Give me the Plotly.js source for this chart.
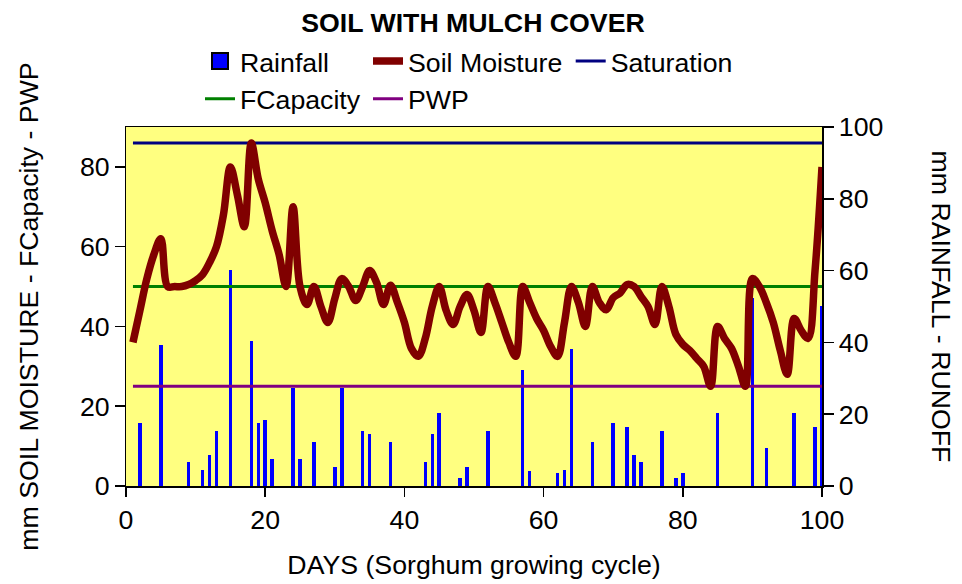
<!DOCTYPE html>
<html>
<head>
<meta charset="utf-8">
<script src="https://cdn.plot.ly/plotly-3.0.1.min.js"></script>
<style>html,body{margin:0;padding:0;background:#fff;}#chart{width:962px;height:584px;}</style>
</head>
<body>
<div id="chart"></div>
<script>
// ---- data ----
const days = Array.from({length: 100}, (_, i) => i + 1);
const soilMoisture = [
  36, 44, 52, 58, 62, 50, 50, 50, 50.5, 51.5,
  53, 56, 60, 68, 80, 73, 65, 86, 77, 71,
  64, 58, 50, 70, 50, 45.5, 50, 45, 41, 47,
  52, 50, 46.5, 50, 54, 51, 45.5, 50.3, 46, 41,
  34.5, 32.5, 37, 45, 50, 44, 40.5, 45, 48, 44,
  38.5, 50, 46, 41, 36, 32.5, 50, 46, 42, 39,
  35, 32.5, 41, 50, 46, 40, 50, 46, 44.2, 47.2,
  48.4, 50.5, 50, 47.5, 45, 40.5, 50, 45, 38, 35.5,
  34, 32, 30, 25, 40, 37, 34.5, 30, 25, 52,
  50, 46, 41, 34, 28, 42, 39, 37, 54, 80
];
const rainDays = [2, 5, 9, 11, 12, 13, 15, 18, 19, 20, 21, 24, 25, 27, 30, 31, 34, 35, 38, 43, 44, 45, 48, 49, 52, 57, 58, 62, 63, 64, 67, 70, 72, 73, 74, 77, 79, 80, 85, 90, 92, 96, 99, 100];
const rainfall = [17.5, 39.3, 6.6, 4.5, 8.5, 15.4, 60.2, 40.4, 17.5, 18.4, 7.4, 27.4, 7.4, 12.3, 5.4, 27.4, 15.4, 14.4, 12.3, 6.6, 14.4, 20.4, 2.3, 5.4, 15.4, 32.3, 4.3, 3.5, 4.5, 38.3, 12.3, 17.5, 16.3, 8.5, 6.6, 15.4, 2.3, 3.5, 20.4, 52.3, 10.5, 20.4, 16.3, 50.2];
const saturationLevel = 86;
const fcapacityLevel = 50;
const pwpLevel = 25;
const xTicks = [0, 20, 40, 60, 80, 100];
const leftTicks = [0, 20, 40, 60, 80];
const rightTicks = [0, 20, 40, 60, 80, 100];

const FONT = 'Liberation Sans, Arial, sans-serif';
const FS = 26.7;

const traces = [
  { // rainfall bars (right axis scale)
    type: 'bar', x: rainDays, y: rainfall, yaxis: 'y', xaxis: 'x',
    width: 0.5, marker: {color: '#0000FF', line: {width: 0}},
    showlegend: false, name: 'Rainfall', hoverinfo: 'x+y'
  },
  { // legend entry for rainfall
    type: 'scatter', mode: 'markers', x: [null], y: [null], yaxis: 'y',
    name: 'Rainfall', legend: 'legend', legendrank: 1,
    marker: {symbol: 'square', size: 16, color: '#0000FF', line: {color: '#000000', width: 2}}
  },
  {
    type: 'scatter', mode: 'lines', x: days, y: days.map(() => fcapacityLevel), yaxis: 'y2',
    name: 'FCapacity', legend: 'legend', legendrank: 2, line: {color: '#008000', width: 3}
  },
  {
    type: 'scatter', mode: 'lines', x: days, y: days.map(() => pwpLevel), yaxis: 'y2',
    name: 'PWP', legend: 'legend2', legendrank: 2, line: {color: '#800080', width: 3}
  },
  {
    type: 'scatter', mode: 'lines', x: days, y: days.map(() => saturationLevel), yaxis: 'y2',
    name: 'Saturation', legend: 'legend3', line: {color: '#000080', width: 3}
  },
  {
    type: 'scatter', mode: 'lines', x: days, y: soilMoisture, yaxis: 'y2',
    name: 'Soil Moisture', legend: 'legend2', legendrank: 1,
    line: {color: '#800000', width: 7.5, shape: 'spline', smoothing: 1}
  }
];

const legendBase = {
  orientation: 'v', xref: 'paper', yref: 'paper', xanchor: 'left', yanchor: 'top',
  bgcolor: 'rgba(0,0,0,0)', borderwidth: 0,
  font: {family: FONT, size: FS, color: '#000'}, y: 1.25, traceorder: 'normal'
};

const layout = {
  width: 962, height: 584,
  margin: {l: 126, r: 140, t: 127, b: 98, autoexpand: false},
  paper_bgcolor: '#ffffff', plot_bgcolor: '#FFFF80',
  font: {family: FONT, size: FS, color: '#000'},
  title: {
    text: '<b>SOIL WITH MULCH COVER</b>', font: {family: FONT, size: FS, color: '#000'},
    x: 0.4917, xanchor: 'center', xref: 'container', yref: 'container', y: 1 - 23/584, yanchor: 'middle'
  },
  bargap: 0,
  xaxis: {
    range: [0, 100], tickvals: xTicks, ticktext: xTicks.map(String), ticks: 'outside', ticklen: 9, tickwidth: 1.5,
    tickcolor: '#000', showline: true, mirror: true, linecolor: '#000', linewidth: 1.5,
    showgrid: false, zeroline: false, tickfont: {family: FONT, size: FS, color: '#000'},
    title: {text: 'DAYS (Sorghum growing cycle)', font: {family: FONT, size: FS, color: '#000'}, standoff: 22}
  },
  yaxis: { // right axis: rainfall
    side: 'right', range: [0, 100], tickvals: rightTicks, ticktext: rightTicks.map(String), ticks: 'outside', ticklen: 10, tickwidth: 1.5,
    tickcolor: '#000', showline: true, mirror: true, linecolor: '#000', linewidth: 1.5, layer: 'below traces',
    showgrid: false, zeroline: false, tickfont: {family: FONT, size: FS, color: '#000'}
  },
  yaxis2: { // left axis: soil moisture
    side: 'left', overlaying: 'y', range: [0, 90], tickvals: leftTicks, ticktext: leftTicks.map(String), ticks: 'outside', ticklen: 10, tickwidth: 1.5,
    tickcolor: '#000', showline: false, showgrid: false, zeroline: false,
    tickfont: {family: FONT, size: FS, color: '#000'},
    title: {text: 'mm SOIL MOISTURE - FCapacity - PWP', font: {family: FONT, size: FS, color: '#000'}, standoff: 33}
  },
  legend: Object.assign({}, legendBase, {x: (200 - 126) / 696}),
  legend2: Object.assign({}, legendBase, {x: (368 - 126) / 696}),
  legend3: Object.assign({}, legendBase, {x: (570.7 - 126) / 696}),
  annotations: [{
    text: 'mm RAINFALL - RUNOFF', textangle: 90, xref: 'paper', yref: 'paper',
    x: (941 - 126) / 696, y: 0.5, xanchor: 'center', yanchor: 'middle', showarrow: false,
    font: {family: FONT, size: FS, color: '#000'}
  }],
  showlegend: true
};

Plotly.newPlot('chart', traces, layout, {staticPlot: true, displayModeBar: false});
</script>
</body>
</html>
